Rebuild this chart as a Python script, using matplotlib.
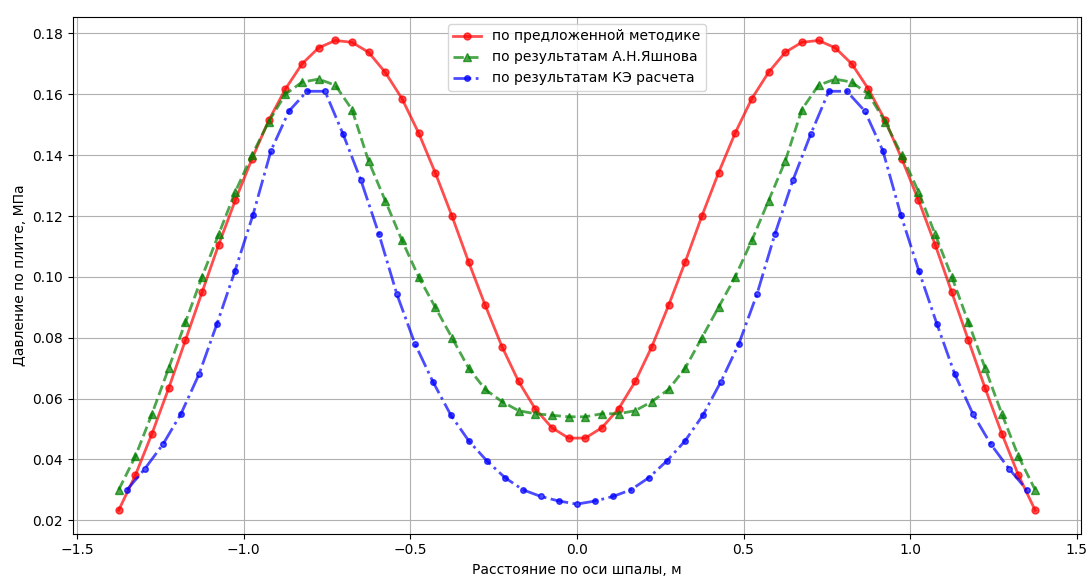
import numpy as np
import matplotlib
matplotlib.use("Agg")
import matplotlib.pyplot as plt

# x grids (m)
x_method = np.round(np.arange(-1.375, 1.376, 0.05), 3)
x_fem = np.round(np.linspace(-1.35, 1.35, 51), 3)

# pressure, MPa
p_method = [0.0233, 0.0348, 0.0485, 0.0634, 0.0791, 0.0949, 0.1106, 0.1252, 0.1388, 0.1514,
            0.1617, 0.1700, 0.1753, 0.1777, 0.1771, 0.1738, 0.1672, 0.1586, 0.1473, 0.1342,
            0.1200, 0.1049, 0.0906, 0.0771, 0.0656, 0.0566, 0.0504, 0.0470,
            0.0470, 0.0504, 0.0566, 0.0656, 0.0771, 0.0906, 0.1049, 0.1200, 0.1342, 0.1473,
            0.1586, 0.1672, 0.1738, 0.1771, 0.1777, 0.1753, 0.1700, 0.1617, 0.1514, 0.1388,
            0.1252, 0.1106, 0.0949, 0.0791, 0.0634, 0.0485, 0.0348, 0.0233]

p_yashnov = [0.030, 0.041, 0.055, 0.070, 0.085, 0.100, 0.114, 0.128, 0.140, 0.151,
             0.160, 0.164, 0.165, 0.163, 0.155, 0.138, 0.125, 0.112, 0.100, 0.090,
             0.080, 0.070, 0.063, 0.059, 0.056, 0.055, 0.0545, 0.054,
             0.054, 0.055, 0.055, 0.056, 0.059, 0.063, 0.070, 0.080, 0.090, 0.100,
             0.112, 0.125, 0.138, 0.155, 0.163, 0.165, 0.164, 0.160, 0.151, 0.140,
             0.128, 0.114, 0.100, 0.085, 0.070, 0.055, 0.041, 0.030]

p_fem = [0.030, 0.037, 0.045, 0.055, 0.068, 0.0846, 0.102, 0.1204, 0.1415, 0.1545,
         0.161, 0.161, 0.147, 0.1317, 0.114, 0.0942, 0.078, 0.0655, 0.0545, 0.046,
         0.0395, 0.034, 0.030, 0.0278, 0.0263, 0.0253,
         0.0263, 0.0278, 0.030, 0.034, 0.0395, 0.046, 0.0545, 0.0655, 0.078, 0.0942,
         0.114, 0.1317, 0.147, 0.161, 0.161, 0.1545, 0.1415, 0.1204, 0.102, 0.0846,
         0.068, 0.055, 0.045, 0.037, 0.030]

labels = ["по предложенной методике",
          "по результатам А.Н.Яшнова",
          "по результатам КЭ расчета"]

fig = plt.figure(figsize=(10.88, 5.76), dpi=100)
ax = fig.add_subplot(111)

ax.plot(x_method, p_method, 'r-', marker='o', markersize=5, linewidth=2, alpha=0.7, label=labels[0])
ax.plot(x_method, p_yashnov, 'g--', marker='^', markersize=6, linewidth=2, alpha=0.7, label=labels[1])
ax.plot(x_fem, p_fem, 'b-.', marker='.', markersize=8, linewidth=2, alpha=0.7, label=labels[2])

ax.set_xlabel('Расстояние по оси шпалы, м')
ax.set_ylabel('Давление по плите, МПа')
ax.grid(True)
ax.legend(loc='upper center')

fig.subplots_adjust(left=0.067, right=0.9935, top=0.9705, bottom=0.0735)
fig.savefig('out.png')
